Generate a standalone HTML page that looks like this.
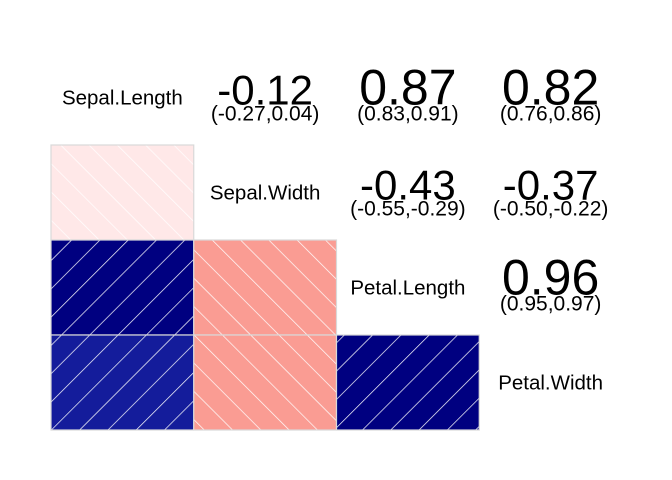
<!DOCTYPE html>
<html><head><meta charset="utf-8"><style>
body{margin:0;background:#fff;}
svg{display:block;font-family:"Liberation Sans",Arial,sans-serif;}
</style></head><body>
<svg id="chart" width="672" height="480" viewBox="0 0 672 480" xmlns="http://www.w3.org/2000/svg">
<defs>
<pattern id="hatchPos" patternUnits="userSpaceOnUse" width="20" height="20" patternTransform="rotate(45)">
<line x1="0" y1="0" x2="0" y2="20" stroke="#fff" stroke-width="1.4" opacity="1"/>
</pattern>
<pattern id="hatchNeg" patternUnits="userSpaceOnUse" width="20" height="20" patternTransform="rotate(-45)">
<line x1="0" y1="0" x2="0" y2="20" stroke="#fff" stroke-width="1.4" opacity="1"/>
</pattern>
</defs>
<g id="cells"></g>
</svg>
<script>
const variables=["Sepal.Length","Sepal.Width","Petal.Length","Petal.Width"];
const corrR=[-0.12,0.87,0.82,-0.43,-0.37,0.96];
const corrLo=[-0.27,0.83,0.76,-0.55,-0.50,0.95];
const corrHi=[0.04,0.91,0.86,-0.29,-0.22,0.97];
const pairRow=[0,0,0,1,1,2];
const pairCol=[1,2,3,2,3,3];
const x0=51,y0=50,cw=142.75,ch=95;
const xs=c=>x0+c*cw, ys=r=>y0+r*ch;
function posCol(r){const t=Math.max(0,Math.min(1,(r-0.82)/0.05)); const f=1-t; return `rgb(${Math.round(20*f)},${Math.round(28*f)},${Math.round(128+27*f)})`;}
function negCol(r){const t=Math.max(0,Math.min(1,(Math.abs(r)-0.12)/0.25)); return `rgb(${Math.round(255-5*t)},${Math.round(232-(232-156)*t)},${Math.round(232-(232-147)*t)})`;}
const g=document.getElementById('cells');
const NS="http://www.w3.org/2000/svg";
function fmt(v){return v.toFixed(2);}
variables.forEach((v,i)=>{
  const t=document.createElementNS(NS,'text');
  
  
  t.setAttribute('x',xs(i)+cw/2);t.setAttribute('y',ys(i)+ch/2+7);
  t.setAttribute('text-anchor','middle');t.setAttribute('font-size','20.5');
  t.textContent=v;g.appendChild(t);
});
corrR.forEach((r,k)=>{
  const i=pairRow[k],j=pairCol[k];
  const rect=document.createElementNS(NS,'rect');
  
  
  rect.setAttribute('x',xs(i));rect.setAttribute('y',ys(j));
  rect.setAttribute('width',cw);rect.setAttribute('height',ch);
  rect.setAttribute('fill',r>=0?posCol(r):negCol(r));
  g.appendChild(rect);
  const h=document.createElementNS(NS,'rect');
  
  
  h.setAttribute('x',xs(i));h.setAttribute('y',ys(j));
  h.setAttribute('width',cw);h.setAttribute('height',ch);
  h.setAttribute('fill',r>=0?'url(#hatchPos)':'url(#hatchNeg)');
  h.setAttribute('stroke','#d9d9d9');h.setAttribute('stroke-width','1.2');
  g.appendChild(h);
  const cx=xs(j)+cw/2, cy=ys(i)+ch/2;
  const big=document.createElementNS(NS,'text');
  
  
  big.setAttribute('x',cx);big.setAttribute('y',cy+7);
  big.setAttribute('text-anchor','middle');
  big.setAttribute('font-size',r>=0?50:42);
  big.textContent=fmt(r);g.appendChild(big);
  const ci=document.createElementNS(NS,'text');
  
  
  ci.setAttribute('x',cx);ci.setAttribute('y',cy+23);
  ci.setAttribute('text-anchor','middle');ci.setAttribute('font-size','21');
  ci.textContent='('+fmt(corrLo[k])+','+fmt(corrHi[k])+')';g.appendChild(ci);
});
</script>
</body></html>
